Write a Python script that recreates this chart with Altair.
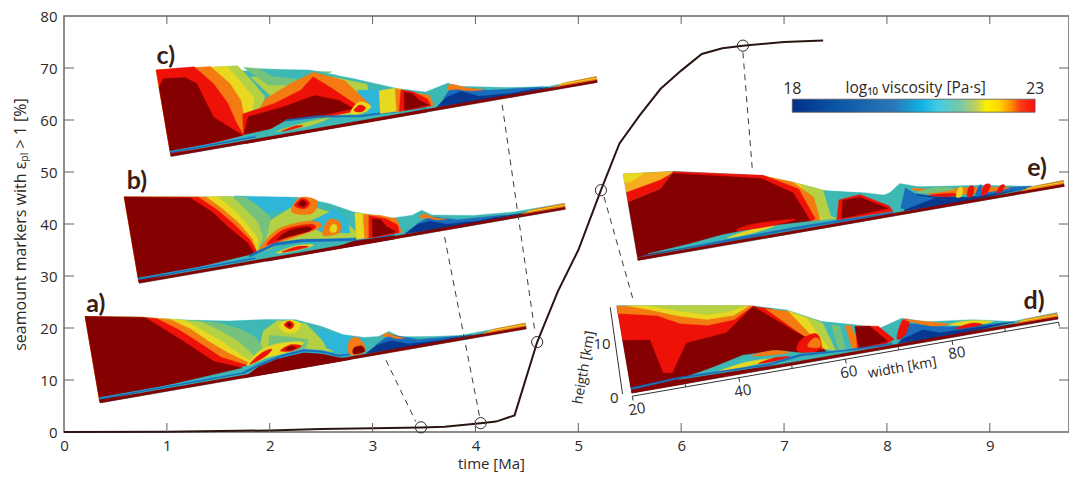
import altair as alt
import pandas as pd

# main curve
time_ma = [0, 1, 2, 2.5, 3, 3.47, 3.7, 4.05, 4.2, 4.38, 4.6, 4.8, 5.0, 5.22, 5.4, 5.6, 5.8, 6.0, 6.2, 6.4, 6.6, 7.0, 7.38]
markers = [0, 0.05, 0.3, 0.6, 0.7, 0.85, 1.0, 1.7, 2.0, 3.2, 17.3, 27, 35, 46.5, 55.5, 61, 66, 69.5, 72.7, 73.8, 74.3, 75, 75.3]
circle_t = [3.47, 4.05, 4.6, 5.22, 6.6]
circle_m = [0.9, 1.7, 17.3, 46.5, 74.3]
dashes = [((3.13, 13.8), (3.42, 2.0)), ((3.70, 37.5), (4.04, 3.0)), ((4.26, 62.9), (4.58, 19.0)),
          ((5.25, 45.2), (5.53, 25.6)), ((6.60, 73.0), (6.69, 50.8))]
x_ticks = list(range(1, 10))
y_ticks = list(range(10, 80, 10))

DR, R, O, YO, Y, LG, G, T, C, B, DB = ('#850000', '#ee1108', '#f47a12', '#f5ae1e', '#e8d820', '#b4d044',
                                        '#74c27c', '#3db8b4', '#2db6d8', '#1a6cbc', '#07388f')

# inset origins (Ma, %) of the 20 km / 0 km corner
origin = {'a': (0.35, 5.6), 'b': (0.73, 28.6), 'c': (1.04, 53.0), 'd': (5.52, 7.5), 'e': (5.58, 33.0)}

# inset surface profiles: width km, height km
top_a = [(20, 16.3), (30.5, 14.3), (37, 12.7), (46, 10.9), (53, 10), (58.3, 9), (62.7, 7), (66.4, 4.8), (70.2, 3.6), (72.8, 3.3), (74.9, 3.9), (76.7, 2.6), (82, 1.7), (87.8, .9), (100, 1.1)]
top_b = [(20, 16.3), (34.7, 13.7), (51.6, 10.7), (57.1, 8.6), (61.2, 6.3), (68, 3.9), (71.9, 3.8), (73.8, 4.4), (75.5, 3.2), (83.1, 1.8), (90.7, 1.15), (100, 1.15)]
top_c = [(20, 16.3), (48.9, 11), (55.6, 8.5), (63.5, 5.2), (68.4, 3.7), (72.8, 4.65), (74.2, 3.8), (83.5, 1.9), (91, .8), (100, 1.1)]
top_d = [(20, 16.5), (44.8, 12.1), (50.8, 10.3), (57, 7), (63.1, 5.3), (67.2, 4), (71.5, 5.1), (75.9, 3.7), (84.4, 2.6), (91.7, 1), (100, 1.25)]
top_e = [(20, 16.3), (29.2, 15.2), (44.9, 11.7), (50.7, 9.4), (56.5, 6.7), (63.8, 5.1), (67.4, 4), (70.1, 5.75), (73.7, 4.5), (84.7, 2.9), (94.3, 1), (100, 1.15)]

# each entry: colour, mode ('L' closes on left edge, 'P' polygon, 'S' smooth blob), points
regions_a = [
    (LG, 'P', [(50, 3), (52, 8), (55, 9.5), (60, 8), (62, 5), (64, 2), (58, 3.2)]),
    (G, 'P', [(52, 3.3), (53, 7), (56, 6.2), (60, 5), (59, 3.2)]),
    (G, 'L', [(44, 11), (48, 9), (50.5, 7), (51.5, 4.5), (52, 3.2)]),
    (LG, 'L', [(41, 11.6), (44, 9.5), (47, 7), (49, 4.5), (50, 3)]),
    (Y, 'L', [(38, 12.4), (41, 10), (44, 7.5), (47, 4.5), (49, 2.6)]),
    (O, 'L', [(35.5, 13), (39, 10.5), (41.5, 8), (45, 5), (48.5, 2.5)]),
    (R, 'L', [(33, 13.6), (36.5, 11), (39.5, 8.3), (43.5, 4.5), (48, 2.2)]),
    (DR, 'L', [(31, 14.1), (34.5, 11), (37.5, 8.3), (42, 4), (47, 1.9)]),
    (Y, 'S', [(55, 8.5), (57, 9.2), (59, 8.2), (58, 6.8), (56, 7)]),
    (R, 'S', [(56, 8.4), (57, 9), (57.8, 8.2), (57, 7.5)]),
    (DR, 'S', [(56.5, 8.4), (57, 8.7), (57.3, 8.2), (56.9, 7.9)]),
    (Y, 'S', [(48, 2.2), (51, 4.6), (55, 5.2), (59, 4.6), (56, 3.4), (52, 3)]),
    (R, 'S', [(48.5, 2.3), (51, 4), (53, 4.4), (51.5, 3.2)]),
    (R, 'S', [(54.5, 3.8), (56.5, 4.6), (58.5, 4), (56.5, 3.4)]),
    (DR, 'S', [(55.5, 3.9), (56.5, 4.3), (57.5, 3.9), (56.5, 3.6)]),
    (DR, 'P', [(47, 0), (50, 1.6), (54, 2.5), (58.7, 2.8), (62, 2), (65, .7), (67, 0)]),
    (C, 'P', [(54, 3), (58.7, 3.4), (62, 2.6), (65, 1.3), (69, 1.2), (69, .7), (65, .8), (62, 2), (58.7, 2.8), (54, 2.5)]),
    (B, 'P', [(47, .7), (50, 1.7), (54, 2.6), (58.7, 3), (62, 2.2), (65, .9), (69, .8), (69, 1), (65, 1.2), (62, 2.5), (58.7, 3.3), (54, 2.9), (50, 2), (47, 1.1)]),
    (C, 'P', [(62, 6.8), (66, 4.8), (70, 3.5), (70, 1), (66, 1.3), (63, 2.8)]),
    (O, 'S', [(67, 1), (67.4, 3.5), (69, 3.8), (70, 2), (69.5, .8)]),
    (DR, 'S', [(67.8, .9), (68, 2), (69.5, 2.1), (69.8, 1)]),
    (DB, 'P', [(70, .6), (73, 2.2), (75, 3), (79, 1.4), (86, .8), (90, .6), (80, .3)]),
    (B, 'P', [(72, 1.8), (75, 3.3), (80, 1.5), (88, .8), (84, .7), (78, 1.1), (75, 2.2)]),
    (O, 'S', [(73.5, 3.2), (74.5, 3.7), (76, 2.8), (77.5, 2.2), (76, 2.4), (75, 2.9)]),
]
regions_b = [
    (C, 'P', [(40, 13), (50, 11), (53, 8.5), (45, 9)]),
    (LG, 'P', [(43, 2), (45, 7), (50, 9), (54, 8.5), (57, 7), (60, 4), (62, 1.5), (52, 2.5)]),
    (C, 'P', [(52, 5.7), (55, 6.4), (58, 7.4), (60, 5), (60, 2.5), (55, 3.5)]),
    (G, 'L', [(42, 12.5), (44, 10.5), (46, 8), (45, 5), (43, 2)]),
    (LG, 'L', [(39.5, 13), (41.5, 10.5), (43.5, 7.5), (44, 4.5), (42.5, 2)]),
    (Y, 'L', [(37, 13.4), (39.5, 10.5), (41.5, 7.5), (43, 4.5), (42.5, 2)]),
    (O, 'L', [(35, 13.6), (37.5, 11), (40, 8), (42, 4.5), (42.5, 2)]),
    (R, 'L', [(33.5, 13.9), (36.5, 11), (39, 8), (41.5, 4.5), (42.5, 1.9)]),
    (DR, 'L', [(32, 14), (35.5, 10.8), (38, 7.5), (41, 4), (42, 1.8)]),
    (O, 'S', [(50, 8.5), (52, 10.6), (55, 9.5), (54, 7.4), (51.5, 7.5)]),
    (R, 'S', [(50.8, 9.3), (52.4, 10.4), (53.6, 9.3), (52.4, 8.4)]),
    (DR, 'S', [(51.5, 9.4), (52.4, 10), (53, 9.3), (52.3, 8.8)]),
    (O, 'S', [(43, 2.4), (47, 5.5), (53, 6), (55, 4.6), (50, 3.5), (46, 3)]),
    (R, 'S', [(44.5, 3), (48, 5.2), (53, 5.4), (53.6, 4.4), (49, 3.7)]),
    (DR, 'S', [(46.5, 3.6), (49, 4.9), (52.5, 5), (52.8, 4.2), (49, 3.8)]),
    (O, 'S', [(55, 3), (56.5, 5.6), (58.5, 4.9), (58, 2.9)]),
    (Y, 'S', [(56.4, 3.4), (57, 4.6), (57.8, 4.3), (57.5, 3.2)]),
    (DR, 'P', [(44, 0), (58, .5), (61, 1), (68, .6), (68, 0)]),
    (T, 'P', [(43, 1), (46, 2.6), (51, 2.5), (61, 1.1), (54, .6), (46, .5)]),
    (Y, 'S', [(46, 1.2), (50, 1.9), (53, 1.4), (49, 1)]),
    (R, 'S', [(47, 1.2), (50, 1.7), (52, 1.3), (49, 1.1)]),
    (B, 'P', [(41, 1.3), (46, 2.6), (51, 2.4), (61, .9), (68, .7), (68, 1), (61, 1.3), (51, 2.9), (46, 3.1), (41, 1.7)]),
    (Y, 'P', [(61, 1.1), (61.5, 6), (63.5, 5.6), (64.5, 1)]),
    (O, 'P', [(62.5, 1), (63, 5.5), (66, 4.8), (69, 3.6), (69.5, 1)]),
    (R, 'P', [(63.3, 1), (64, 5.1), (67, 4), (69, 2.4), (69, 1)]),
    (DR, 'P', [(64, 1), (64.5, 4.4), (66, 4), (66.8, 2.6), (68.5, 1.2)]),
    (DB, 'P', [(70, .6), (73, 2.2), (75, 2.7), (79, 1.2), (88, .8), (93, .6), (80, .3)]),
    (B, 'P', [(72.5, 2), (75, 3), (80, 1.5), (89, .9), (84, .7), (78, 1.1), (75, 2.2)]),
    (O, 'S', [(73.3, 3), (74, 3.7), (76, 2.6), (78, 2), (76, 2.2), (75, 2.7)]),
]
regions_c = [
    (LG, 'P', [(38, 2), (40, 8), (37, 12), (42, 11.5), (48, 9), (52, 9.4), (58, 7), (58, 2)]),
    (G, 'P', [(36, 14), (44, 12), (52, 10.4), (45, 9), (40, 10), (38, 12)]),
    (T, 'P', [(39, 13.2), (48, 11.4), (53, 9.5), (46, 10), (41, 11.5)]),
    (C, 'P', [(56, 6.2), (60, 5.6), (63, 4.6), (63, 1.4), (58, 1.3), (56, 3)]),
    (LG, 'L', [(35, 14.5), (37, 11.5), (39, 8), (37, 4), (34.2, 1.8)]),
    (Y, 'L', [(33, 14.7), (35, 11.5), (37, 8), (35.5, 4), (34, 1.8)]),
    (O, 'L', [(30, 15.2), (33, 11.5), (34.5, 8), (34.6, 4), (34, 1.7)]),
    (R, 'L', [(27, 15.7), (30, 12), (32, 8), (33, 4), (33.9, 1.6)]),
    (DR, 'P', [(20, 13), (21, 14.5), (25, 14), (27, 12.5), (28, 9), (29, 5.8), (33.7, 1.6), (20, .6)]),
    (O, 'P', [(36, 4), (39, 7.5), (44, 9.5), (48.6, 10.9), (54, 8.4), (58, 3), (54, 2.4), (45, 3)]),
    (R, 'P', [(33.9, 1.7), (34.4, 5.5), (40.4, 6.4), (45.7, 8), (48.4, 10.1), (51.5, 7.3), (56, 3), (54, 2.4), (42, 2.1)]),
    (DR, 'P', [(34, 1.7), (35.3, 4.8), (42.1, 5.5), (48.1, 6.6), (52.4, 4.9), (54.7, 3), (48.8, 2.7), (42.2, 2)]),
    (Y, 'S', [(54, 2.2), (56, 4), (58, 2.8), (56, 1.8)]),
    (R, 'S', [(54.8, 2.6), (56, 3.4), (57, 2.7), (56, 2.1)]),
    (DR, 'P', [(34, 0), (62, .3), (68, .5), (68, 0)]),
    (T, 'P', [(35, .9), (39, 1.8), (42, 2.9), (48, 2.4), (56, 1.1), (66, .8), (60, .6), (46, .5)]),
    (LG, 'S', [(40, 1.2), (45, 1.9), (50, 2), (46, 1.2)]),
    (R, 'S', [(41, 1.1), (43.6, 1.6), (45, 1.4), (43, 1.1)]),
    (B, 'P', [(42, 2.8), (48, 2.5), (56, 1.2), (68, .8), (68, 1), (56, 1.5), (48, 2.8), (42, 3.1)]),
    (Y, 'P', [(59.5, 1.2), (60, 5.4), (62.5, 5.4), (64, 5.1), (64.5, 1)]),
    (O, 'P', [(62.5, 1), (63, 5.3), (65, 4.4), (69, 3), (69.5, 1)]),
    (R, 'P', [(63, 1), (64, 4.9), (66, 4.2), (68.5, 2.4), (69, 1)]),
    (DR, 'P', [(64, 1), (64.5, 4.4), (66, 3.8), (67, 2.4), (68.6, 1.2)]),
    (DB, 'P', [(70, .6), (73, 2.9), (75, 3.3), (79, 1.6), (88, .9), (91, .6), (80, .3)]),
    (B, 'P', [(71.5, 2), (73.3, 3.8), (80, 2), (90, .9), (84, .8), (78, 1.3), (75, 2.8)]),
    (O, 'S', [(72.5, 3.4), (73.3, 4.3), (76, 3.2), (79, 2.3), (76, 2.6), (74.3, 3.2)]),
]
regions_d = [
    (DR, 'P', [(20, 16.3), (45, 12), (53, 7), (57, 1), (30, 0), (20, 0)]),
    (R, 'P', [(20, 16.3), (45, 12), (39, 8), (31.5, 7.4), (28.1, 2.4), (26.3, 2.7), (25, 9.1), (20, 9.9)]),
    (O, 'P', [(20, 16.4), (44.8, 12.1), (41, 10.2), (36, 10), (31, 11.2), (27, 13.4), (21, 14.8), (20, 15)]),
    (Y, 'P', [(22, 16.1), (44, 12.2), (41, 11), (36, 11.1), (31, 12.6), (26, 14.6)]),
    (LG, 'P', [(26, 15.4), (43.5, 12.4), (40, 11.8), (36, 12), (31, 13.6)]),
    (R, 'P', [(44.8, 12), (48, 11), (53, 7.4), (57, 2.8), (54, 2)]),
    (O, 'P', [(47, 11.2), (51, 10), (55, 7.6), (58, 2), (56, 2)]),
    (Y, 'P', [(51, 10.1), (56.5, 7), (58.4, 1.4), (56.5, 2)]),
    (LG, 'P', [(54, 8.6), (58, 6), (59.2, 1.4), (57.6, 1.5)]),
    (T, 'P', [(57, 7), (63, 5.3), (62.5, 1), (58.5, 1.5)]),
    (G, 'P', [(58.5, 6.2), (60, 5.6), (60.3, 1.3), (59, 1.4)]),
    (O, 'P', [(61, 5.6), (62, 5.4), (63, 1.1), (61.5, 1.2)]),
    (DR, 'P', [(28.1, 2.4), (31.5, 7.4), (39.1, 8), (44.8, 12), (51.3, 6.4), (55.2, 3.3), (52.4, 2.1), (47.7, 3.3), (39.3, 2.2), (31.6, 1)]),
    (R, 'S', [(51.5, 2.5), (52.5, 4.4), (55.5, 5), (56, 2.4), (54, 1.7)]),
    (O, 'S', [(53.5, 3), (55, 4.3), (56, 3.6), (55.6, 2.4)]),
    (R, 'P', [(62.8, 5.2), (67, 4.4), (69.5, 1.5), (68, .9), (62.5, .9)]),
    (DR, 'P', [(62.9, 1), (62.7, 5), (65.4, 4.7), (68.3, 1.3)]),
    (DR, 'P', [(20, 9.9), (24.9, 9.1), (26.3, 2.7), (25, 1), (20, 1)]),
    (T, 'P', [(29, 1), (35, 2), (41.4, 3.4), (47.7, 3.2), (52.4, 1.9), (60, .9), (48, .6)]),
    (Y, 'S', [(36, 1.1), (42, 2), (48, 1.7), (41, 1.2)]),
    (R, 'S', [(44, 1.4), (47, 1.9), (50, 1.6), (47, 1.3)]),
    (O, 'S', [(43, 3), (47, 3.3), (50, 2.4), (46.5, 2.5)]),
    (B, 'P', [(20, .6), (29, 1.1), (46, .7), (52, 1.4), (62, .8), (69, .6), (69, .9), (60, 1.1), (52, 1.8), (46, 1), (29, 1.4), (20, 1)]),
    (DB, 'P', [(70, .6), (73, 2.8), (76, 2.4), (81, 1.4), (92, .9), (80, .3)]),
    (B, 'P', [(70.5, 1.2), (72.5, 4), (80, 2), (90, 1), (78, 1.3), (75, 2.4)]),
    (R, 'S', [(70, 1.5), (71.5, 4.6), (72.8, 4.4), (71.7, 2)]),
    (O, 'S', [(72, 4.8), (76, 3.7), (80, 2.5), (77, 2.7), (74, 3.8)]),
    (Y, 'S', [(80, 2.4), (84, 2.5), (88, 1.6), (84, 1.6)]),
    (R, 'S', [(81, 1.5), (84, 2), (86, 1.4), (83, 1.3)]),
]
regions_e = [
    (Y, 'P', [(45, 11.7), (50.7, 9.4), (56.5, 6.7), (57.5, 1.1), (52, 1.3)]),
    (LG, 'P', [(52, 8.8), (56.5, 6.7), (58, 5), (58.4, 1.2), (55, 1.4)]),
    (O, 'P', [(44.9, 11.7), (50.7, 9.4), (54, 6), (54.5, 1.5), (52, 1.6)]),
    (T, 'P', [(56, 6.9), (63, 5.2), (58.8, 4.4), (58, 1.2), (56.6, 2)]),
    (R, 'P', [(29, 15.2), (45.5, 11.6), (51.5, 8), (53.6, 2), (52.5, 1.6), (30, 5)]),
    (DR, 'P', [(29, 14.9), (45, 11.1), (50.4, 7.4), (52.6, 1.9), (45, 1), (20, .6), (20, 11), (26.3, 12.4)]),
    (YO, 'P', [(20, 16.3), (29.2, 15.2), (26.3, 13.5), (21, 12.6), (20, 13)]),
    (R, 'P', [(20, 11), (26.3, 12.4), (29, 14.9), (26.5, 14), (20, 12.8)]),
    (Y, 'P', [(20, 16.3), (24, 15.8), (21, 14.6), (20, 14.8)]),
    (T, 'P', [(22, .9), (30, 1.4), (36, 2), (44, 2.2), (52, 1.7), (62, .9), (46, .5)]),
    (B, 'P', [(21, .7), (38, 1), (52, 1.1), (68, .7), (68, .5), (52, .7), (36, .6)]),
    (Y, 'S', [(37, 1.3), (42, 2.1), (46, 2), (42, 1.4)]),
    (R, 'S', [(39, 2.3), (42, 3), (50, 2.6), (46, 2.1)]),
    (R, 'P', [(57.5, 1.1), (58.5, 4.7), (62.5, 5), (67.5, 2), (68, .9)]),
    (DR, 'P', [(58.4, 1.2), (59.2, 4.5), (62.4, 4.5), (67.2, 1.6)]),
    (T, 'P', [(66, 4), (71, 5), (84, 2.8), (94, 1), (85, 0.7), (72, .6)]),
    (DB, 'P', [(70, .6), (72.5, 3.4), (76, 2.3), (82, 1.1), (94, .9), (80, .3)]),
    (B, 'P', [(69.5, 1.2), (71, 4.8), (73, 3), (76, 2), (70.5, .9)]),
    (B, 'P', [(84, 1), (92, .8), (94, 1.1), (88, 1.8)]),
    (O, 'S', [(72, 4.5), (76, 3.7), (84, 2.6), (90, 1.5), (84, 1.5), (76, 2.7)]),
    (R, 'S', [(75, 2.7), (79, 2.4), (81, 1.7), (78, 1.9)]),
    (R, 'S', [(82, 1.2), (82.6, 2.9), (83.5, 2.8), (83, 1.2)]),
    (R, 'S', [(84.6, 1.1), (85.5, 2.8), (86.6, 2.6), (85.6, 1.1)]),
    (R, 'S', [(87.5, 1), (88.4, 2.2), (89.2, 2.1), (88.4, 1)]),
    (Y, 'S', [(80, 1.5), (80.6, 3), (81.4, 3), (81, 1.5)]),
    (B, 'S', [(83.5, 1.1), (84.5, 2.8), (85, 2.7), (84.4, 1.1)]),
    (G, 'S', [(73, 3.6), (77, 3.9), (80, 3), (76, 3)]),
]
regions = {'a': (top_a, regions_a), 'b': (top_b, regions_b), 'c': (top_c, regions_c), 'd': (top_d, regions_d), 'e': (top_e, regions_e)}

# viscosity colour bar
cbar_stops = [(0, '#00308a'), (.18, '#0a55a5'), (.42, '#2a78b8'), (.53, '#10b2e2'), (.6, '#40cce6'), (.7, '#80c8a0'),
              (.76, '#c4d255'), (.8, '#fff000'), (.85, '#ffd800'), (.9, '#ff9000'), (.94, '#ff3a10'), (1, '#ff1010')]
panel_labels = [('a)', .31, 24.6), ('b)', .71, 48.3), ('c)', .99, 72.3), ('d)', 9.43, 25.2), ('e)', 9.46, 50.8)]

FONT = 'Open Sans'
TXT = '#2e2826'
xs = alt.Scale(domain=[0, 9.77], nice=False, zero=False)
ys = alt.Scale(domain=[0, 80], nice=False, zero=False)
x_axis = alt.Axis(values=list(range(0, 10)), title='time [Ma]', tickSize=0, domain=False, grid=False, labelFlush=False,
                  labelFont=FONT, labelFontSize=15, labelColor=TXT, labelPadding=6, titleFont=FONT,
                  titleFontSize=15, titleFontWeight='normal', titleColor=TXT, titleX=427, titleY=24)
y_axis = alt.Axis(values=list(range(0, 90, 10)), title='seamount markers with εₚₗ > 1 [%]', tickSize=0, domain=False,
                  grid=False, labelFont=FONT, labelFontSize=15, labelColor=TXT, labelPadding=7, titleFont=FONT,
                  titleFontSize=16, titleFontWeight='normal', titleColor=TXT, titleX=-36, titleY=208)
X = alt.X('x:Q', scale=xs, axis=x_axis)
Y_ = alt.Y('y:Q', scale=ys, axis=y_axis)
X2 = alt.X2('x2:Q')
Y2 = alt.Y2('y2:Q')


def to_data(panel, w, h):
    x0, y0 = origin[panel]
    return x0 + .0518 * (w - 20) - .00884 * h, y0 + .1778 * (w - 20) + 1.019 * h


def poly(panel, pts, color, smooth=False):
    rows = []
    for i, (w, h) in enumerate(pts):
        x, y = to_data(panel, w, h)
        rows.append({'x': x, 'y': y, 'i': i})
    mark = dict(fill=color, stroke=color, strokeWidth=.4, interpolate='cardinal-closed' if smooth else 'linear-closed')
    return alt.Chart(pd.DataFrame(rows)).mark_line(**mark).encode(x=X, y=Y_, order='i:Q')


def line(pts, color, width, dash=None):
    rows = [{'x': p[0], 'y': p[1], 'i': i} for i, p in enumerate(pts)]
    kw = dict(color=color, strokeWidth=width)
    if dash:
        kw['strokeDash'] = dash
    return alt.Chart(pd.DataFrame(rows)).mark_line(**kw).encode(x=X, y=Y_, order='i:Q')


def text(s, x, y, size=15, angle=0, color=TXT, weight='normal', font=FONT):
    return alt.Chart(pd.DataFrame({'x': [x], 'y': [y], 't': [s]})).mark_text(
        fontSize=size, font=font, color=color, fontWeight=weight, angle=angle, align='center', baseline='middle'
    ).encode(x=X, y=Y_, text='t:N')


layers = []
for p, (top, regs) in regions.items():
    layers.append(poly(p, [(100, 0)] + [(20, 0)] + top, T))
    for color, mode, pts in regs:
        if mode == 'L':
            lead = [q for q in top if q[0] < pts[0][0]]
            layers.append(poly(p, [(20, .4)] + lead + pts, color))
        else:
            layers.append(poly(p, pts, color, smooth=mode == 'S'))
    # oceanic crust strip and channel
    layers.append(poly(p, [(20, 0), (100, 0), (100, .5), (20, .5)], DR))
    if p in 'abc':
        stop = 47 if p == 'a' else 42 if p == 'b' else 36
        layers.append(line([to_data(p, 20, .8), to_data(p, stop, .95)], B, 2))
        layers.append(line([to_data(p, 20, .95), to_data(p, stop, 1.1)], C, .7))
    layers.append(poly(p, [(92, .5), (100, .5), (100, 1.1), (94, 1)], O))
    layers.append(line([to_data(p, 93, .8), to_data(p, 100, .8)], Y, 1))

# inset axes of panel d
layers.append(line([to_data('d', 20, -.6), to_data('d', 100, -.6)], '#333', 1))
layers.append(line([(5.31, 24), (5.43, 7.3)], '#333', 1))
for km in range(20, 110, 10):
    layers.append(line([to_data('d', km, -.6), to_data('d', km, -1.4 if km % 20 == 0 else -.1)], '#333', 1))
d_lab = [('20', 5.57, 4.4), ('40', 6.60, 7.9), ('60', 7.63, 11.5), ('80', 8.68, 15.2), ('width [km]', 8.15, 12.3)]
for s, xx, yy in d_lab:
    layers.append(text(s, xx, yy, 15 if 'w' not in s else 14, angle=350))
for s, xx, yy in [('0', 5.35, 6.5), ('10', 5.23, 16.9)]:
    layers.append(text(s, xx, yy, 15))
layers.append(text('heigth [km]', 5.06, 12.4, 14, angle=280))

# dashed leaders
for a, b in dashes:
    layers.append(line([a, b], '#3c3c3c', 1, [6, 5]))

# curve and circles
layers.append(alt.Chart(pd.DataFrame({'x': time_ma, 'y': markers})).mark_line(color='#2a1512', strokeWidth=2).encode(x=X, y=Y_))
layers.append(alt.Chart(pd.DataFrame({'x': circle_t, 'y': circle_m})).mark_point(shape='circle', size=125, filled=False, color='#2c2c2c', strokeWidth=1, opacity=1).encode(x=X, y=Y_))

# inward ticks on all four sides
tick_col = '#6a6060'
xt = pd.DataFrame({'x': x_ticks})
yt = pd.DataFrame({'y': y_ticks})
layers.append(alt.Chart(xt).mark_rule(color=tick_col, strokeWidth=1).encode(x=X, y=alt.value(416), y2=alt.value(407)))
layers.append(alt.Chart(xt).mark_rule(color=tick_col, strokeWidth=1).encode(x=X, y=alt.value(0), y2=alt.value(8)))
layers.append(alt.Chart(yt).mark_rule(color=tick_col, strokeWidth=1).encode(y=Y_, x=alt.value(0), x2=alt.value(10)))
layers.append(alt.Chart(yt).mark_rule(color=tick_col, strokeWidth=1).encode(y=Y_, x=alt.value(1005), x2=alt.value(995)))

# colour bar
grad = alt.Gradient(gradient='linear', x1=0, x2=1, y1=0, y2=0,
                    stops=[alt.GradientStop(offset=o, color=c) for o, c in cbar_stops])
layers.append(alt.Chart(pd.DataFrame({'x': [7.08], 'x2': [9.44], 'y': [64.0], 'y2': [61.5]})).mark_rect(
    fill=grad, stroke='#555', strokeWidth=.8).encode(x=X, x2=X2, y=Y_, y2=Y2))
layers.append(text('18', 7.08, 66.0, 16))
layers.append(text('23', 9.44, 66.0, 16))
layers.append(text('log₁₀ viscosity [Pa·s]', 8.28, 66.2, 15.5))

# panel letters
for s, x, y in panel_labels:
    layers.append(text(s, x, y, 25, color='#3a1c14', weight='bold', font='Lato'))

chart = alt.layer(*layers).properties(
    width=1005, height=416,
    autosize=alt.AutoSizeParams(type='none'),
    padding={'left': 56, 'top': 8, 'right': 0, 'bottom': 41},
    background='white',
).configure_view(stroke='#6e6464', strokeWidth=1.5)

chart.save("out.html", embed_options={"renderer": "svg", "actions": False})
